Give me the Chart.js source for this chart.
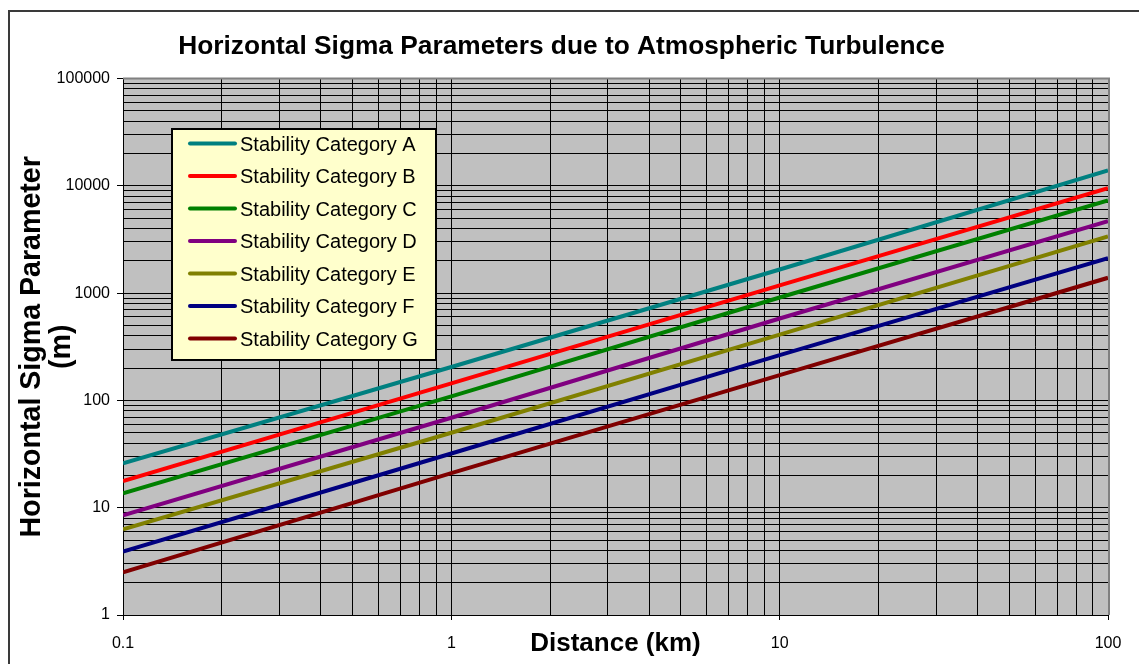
<!DOCTYPE html>
<html>
<head>
<meta charset="utf-8">
<title>Horizontal Sigma Parameters</title>
<script src="https://cdn.jsdelivr.net/npm/chart.js@4.4.0/dist/chart.umd.min.js"></script>
<style>
  html, body { margin: 0; padding: 0; background: #fff; }
  #wrap { width: 1139px; height: 664px; }
</style>
</head>
<body>
<div id="wrap"><canvas id="sigma-chart" width="1139" height="664"></canvas></div>
<script>
// Downwind distance (km) where each curve was sampled
const distances = [0.1, 1, 10, 100];

// Horizontal sigma (m) for each stability category
const sigmaA = [25.9, 205, 1660, 13900];
const sigmaB = [17.7, 144, 1180, 9520];
const sigmaC = [13.6, 109, 910, 7310];
const sigmaD = [8.5, 69, 580, 4690];
const sigmaE = [6.3, 50, 410, 3380];
const sigmaF = [3.9, 32, 264, 2120];
const sigmaG = [2.5, 21, 172, 1390];

const categoryNames = [
  "Stability Category A",
  "Stability Category B",
  "Stability Category C",
  "Stability Category D",
  "Stability Category E",
  "Stability Category F",
  "Stability Category G",
];
const categoryColors = ["#008080", "#FF0000", "#008000", "#800080", "#808000", "#000080", "#800000"];
const sigmaSeries = [sigmaA, sigmaB, sigmaC, sigmaD, sigmaE, sigmaF, sigmaG];

// Labelled decades on each axis
const xDecades = [0.1, 1, 10, 100];
const yDecades = [1, 10, 100, 1000, 10000, 100000];

const FONT = "'Liberation Sans', Arial, sans-serif";

// 1..9 inside every decade, so the grid looks like log paper
function logGridValues(decades) {
  const values = [];
  decades.forEach(function (d, i) {
    if (i === decades.length - 1) {
      values.push(d);
      return;
    }
    for (let k = 1; k <= 9; k++) values.push(d * k);
  });
  return values;
}

const xGrid = logGridValues(xDecades);
const yGrid = logGridValues(yDecades);

function isDecade(list, v) {
  return list.indexOf(v) !== -1;
}

// Grey plot area, outer frame and the top/right edge of the plot
const plotFrame = {
  id: "plotFrame",
  afterLayout(chart) {
    // title is centred on the whole frame, not just the plot
    if (chart.titleBlock) chart.titleBlock.right = chart.width - 16;
  },
  beforeDraw(chart) {
    const { ctx, chartArea: a } = chart;
    ctx.save();
    ctx.fillStyle = "#fff";
    ctx.fillRect(0, 0, chart.width, chart.height);
    ctx.fillStyle = "#C0C0C0";
    ctx.fillRect(a.left, a.top, a.right - a.left, a.bottom - a.top);
    ctx.strokeStyle = "#3a3a3a";
    ctx.lineWidth = 2;
    ctx.strokeRect(9, 11, chart.width + 10, chart.height + 10);
    ctx.restore();
  },
  beforeDatasetsDraw(chart) {
    const { ctx, chartArea: a } = chart;
    ctx.save();
    ctx.strokeStyle = "#808080";
    ctx.lineWidth = 2;
    ctx.beginPath();
    ctx.moveTo(a.left, a.top);
    ctx.lineTo(a.right + 1, a.top);
    ctx.lineTo(a.right + 1, a.bottom);
    ctx.stroke();
    ctx.restore();
  },
};

// Legend box sitting inside the plot, top left
const boxLegend = {
  id: "boxLegend",
  afterDatasetsDraw(chart) {
    const ctx = chart.ctx;
    const x = 172, y = 129, w = 264, h = 231;
    ctx.save();
    ctx.fillStyle = "#FFFFCC";
    ctx.fillRect(x, y, w, h);
    ctx.strokeStyle = "#000";
    ctx.lineWidth = 2;
    ctx.strokeRect(x, y, w, h);
    ctx.font = "20px " + FONT;
    ctx.textBaseline = "middle";
    ctx.textAlign = "left";
    chart.data.datasets.forEach(function (ds, i) {
      const rowY = 143.5 + i * 32.5;
      ctx.strokeStyle = ds.borderColor;
      ctx.lineWidth = 4;
      ctx.lineCap = "round";
      ctx.beginPath();
      ctx.moveTo(190, rowY);
      ctx.lineTo(235, rowY);
      ctx.stroke();
      ctx.fillStyle = "#000";
      ctx.fillText(ds.label, 240, rowY + 1.5);
    });
    ctx.restore();
  },
};

const datasets = sigmaSeries.map(function (values, i) {
  return {
    label: categoryNames[i],
    data: distances.map(function (d, j) {
      return { x: d, y: values[j] };
    }),
    borderColor: categoryColors[i],
    backgroundColor: categoryColors[i],
    borderWidth: 4,
    pointRadius: 0,
    tension: 0,
    fill: false,
  };
});

new Chart(document.getElementById("sigma-chart"), {
  type: "line",
  data: { datasets: datasets },
  plugins: [plotFrame, boxLegend],
  options: {
    responsive: false,
    devicePixelRatio: 1,
    animation: false,
    layout: { padding: { top: 0, left: 0, right: 31, bottom: 0 } },
    plugins: {
      legend: { display: false },
      tooltip: { enabled: false },
      title: {
        display: true,
        text: "Horizontal Sigma Parameters due to Atmospheric Turbulence",
        color: "#000",
        font: { family: FONT, size: 26.3, weight: "bold", lineHeight: 1.2 },
        padding: { top: 31, bottom: 16 },
      },
    },
    scales: {
      x: {
        type: "logarithmic",
        min: 0.1,
        max: 100,
        afterBuildTicks: function (scale) {
          scale.ticks = xGrid.map(function (v) { return { value: v }; });
        },
        afterFit: function (scale) {
          scale.height = 49;
        },
        border: { color: "#000", width: 1 },
        grid: {
          color: "#000",
          lineWidth: 1,
          tickLength: 5,
          tickColor: function (c) {
            return c.tick && isDecade(xDecades, c.tick.value) ? "#000" : "rgba(0,0,0,0)";
          },
        },
        ticks: {
          autoSkip: false,
          maxRotation: 0,
          padding: 14,
          color: "#000",
          font: { family: FONT, size: 16 },
          callback: function (value) {
            return isDecade(xDecades, value) ? String(value) : "";
          },
        },
        title: {
          display: true,
          text: "Distance (km)",
          color: "#000",
          font: { family: FONT, size: 26, weight: "bold", lineHeight: 1.2 },
          padding: { top: 0, bottom: 5 },
        },
      },
      y: {
        type: "logarithmic",
        min: 1,
        max: 100000,
        afterBuildTicks: function (scale) {
          scale.ticks = yGrid.map(function (v) { return { value: v }; });
        },
        afterFit: function (scale) {
          scale.width = 123;
        },
        border: { color: "#000", width: 1 },
        grid: {
          color: "#000",
          lineWidth: 1,
          tickLength: 6,
          tickColor: function (c) {
            return c.tick && isDecade(yDecades, c.tick.value) ? "#000" : "rgba(0,0,0,0)";
          },
        },
        ticks: {
          autoSkip: false,
          padding: 7,
          color: "#000",
          font: { family: FONT, size: 16 },
          callback: function (value) {
            return isDecade(yDecades, value) ? String(value) : "";
          },
        },
        title: {
          display: true,
          text: ["Horizontal Sigma Parameter", "(m)"],
          color: "#000",
          font: { family: FONT, size: 28.6, weight: "bold", lineHeight: 1.05 },
          padding: { top: 17, bottom: 0 },
        },
      },
    },
  },
});
</script>
</body>
</html>
